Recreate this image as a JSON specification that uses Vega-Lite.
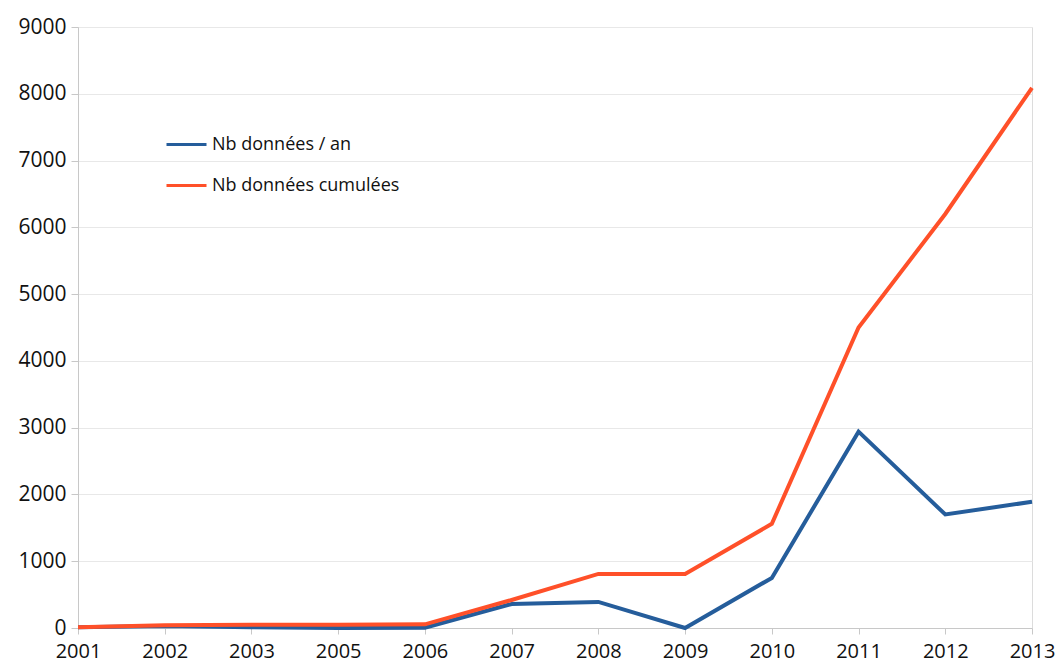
{
  "$schema": "https://vega.github.io/schema/vega-lite/v6.json",
  "width": 954,
  "height": 601,
  "autosize": {"type": "none"},
  "padding": {"left": 78, "top": 27, "right": 26, "bottom": 36},
  "background": "white",
  "config": {
    "view": {"stroke": "#dcdcdc", "strokeWidth": 1},
    "font": "Open Sans"
  },
  "data": {
    "values": [
      {"year": "2001", "series": "Nb données / an", "value": 10},
      {"year": "2002", "series": "Nb données / an", "value": 30},
      {"year": "2003", "series": "Nb données / an", "value": 10},
      {"year": "2005", "series": "Nb données / an", "value": 0},
      {"year": "2006", "series": "Nb données / an", "value": 5},
      {"year": "2007", "series": "Nb données / an", "value": 360},
      {"year": "2008", "series": "Nb données / an", "value": 390},
      {"year": "2009", "series": "Nb données / an", "value": 0},
      {"year": "2010", "series": "Nb données / an", "value": 750},
      {"year": "2011", "series": "Nb données / an", "value": 2940},
      {"year": "2012", "series": "Nb données / an", "value": 1700},
      {"year": "2013", "series": "Nb données / an", "value": 1890},
      {"year": "2001", "series": "Nb données cumulées", "value": 10},
      {"year": "2002", "series": "Nb données cumulées", "value": 40},
      {"year": "2003", "series": "Nb données cumulées", "value": 50},
      {"year": "2005", "series": "Nb données cumulées", "value": 50},
      {"year": "2006", "series": "Nb données cumulées", "value": 55},
      {"year": "2007", "series": "Nb données cumulées", "value": 420},
      {"year": "2008", "series": "Nb données cumulées", "value": 810},
      {"year": "2009", "series": "Nb données cumulées", "value": 810},
      {"year": "2010", "series": "Nb données cumulées", "value": 1560},
      {"year": "2011", "series": "Nb données cumulées", "value": 4500},
      {"year": "2012", "series": "Nb données cumulées", "value": 6200},
      {"year": "2013", "series": "Nb données cumulées", "value": 8090}
    ]
  },
  "mark": {"type": "line", "strokeWidth": 4, "strokeJoin": "miter"},
  "encoding": {
    "x": {
      "field": "year",
      "type": "ordinal",
      "scale": {"type": "point", "padding": 0},
      "axis": {
        "title": null,
        "labelAngle": 0,
        "labelFontSize": 20,
        "labelColor": "#111111",
        "labelPadding": 7,
        "tickSize": 6,
        "tickColor": "#c8c8c8",
        "domainColor": "#c8c8c8",
        "grid": false
      }
    },
    "y": {
      "field": "value",
      "type": "quantitative",
      "scale": {"domain": [0, 9000], "nice": false},
      "axis": {
        "title": null,
        "values": [0, 1000, 2000, 3000, 4000, 5000, 6000, 7000, 8000, 9000],
        "format": "d",
        "labelFontSize": 21,
        "labelColor": "#111111",
        "labelPadding": 5,
        "tickSize": 7,
        "tickColor": "#c8c8c8",
        "domainColor": "#c8c8c8",
        "gridColor": "#e8e8e8"
      }
    },
    "color": {
      "field": "series",
      "type": "nominal",
      "scale": {
        "domain": ["Nb données / an", "Nb données cumulées"],
        "range": ["#255d9b", "#ff5029"]
      },
      "legend": {
        "title": null,
        "orient": "none",
        "legendX": 87,
        "legendY": 96,
        "symbolType": "stroke",
        "symbolSize": 1600,
        "symbolStrokeWidth": 3,
        "labelFontSize": 18,
        "labelLimit": 0,
        "labelColor": "#111111",
        "labelOffset": 4,
        "rowPadding": 10
      }
    }
  }
}
